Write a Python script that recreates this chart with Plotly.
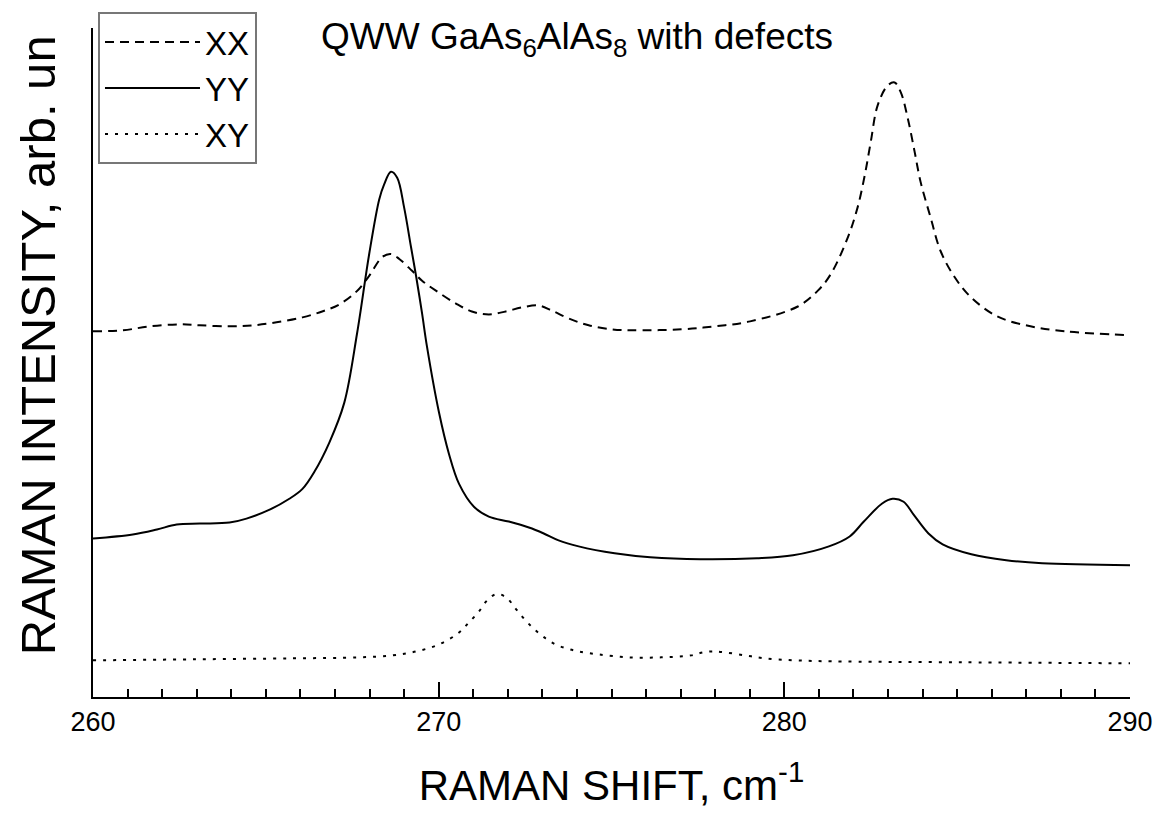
import plotly.graph_objects as go

# Raman shift (cm^-1) and intensity (arb. units) for each polarization
xx_shift = [260.0, 260.87, 261.64, 262.51, 263.09, 263.95, 264.62, 265.31, 266.06, 266.63,
            267.12, 267.62, 267.99, 268.37, 268.62, 268.86, 269.23, 269.52, 269.92, 270.50,
            270.96, 271.45, 271.94, 272.40, 272.89, 273.27, 273.76, 274.34, 275.00, 275.58,
            277.02, 278.00, 279.01, 280.39, 280.97, 281.35, 281.84, 282.12, 282.33, 282.50,
            282.70, 282.99, 283.19, 283.37, 283.57, 283.77, 283.94, 284.23, 284.52, 284.92,
            285.38, 286.16, 287.12, 288.10, 290.00]
xx_int = [369, 370, 374, 376, 375, 374, 375, 378, 383, 389,
          396, 409, 425, 444, 447, 442, 430, 420, 410, 397,
          389, 386, 389, 393, 395, 390, 382, 375, 371, 370,
          371, 374, 379, 394, 410, 427, 464, 494, 527, 560,
          597, 617, 620, 610, 584, 550, 520, 484, 450, 424,
          404, 384, 374, 369, 365]

yy_shift = [260.0, 261.15, 261.85, 262.42, 263.09, 263.95, 264.44, 265.11, 265.68, 266.06,
            266.40, 266.84, 267.27, 267.64, 267.99, 268.28, 268.42, 268.62, 268.80, 269.00,
            269.20, 269.35, 269.52, 269.66, 270.01, 270.30, 270.59, 271.02, 271.45, 272.03,
            272.61, 273.04, 273.47, 274.05, 275.09, 276.12, 277.57, 279.21, 280.25, 281.29,
            281.89, 282.30, 282.82, 283.13, 283.45, 283.74, 284.17, 284.58, 285.41, 286.42,
            287.46, 290.00]
yy_int = [160, 164, 169, 174, 175, 176, 180, 189, 200, 210,
          227, 257, 297, 367, 447, 502, 517, 530, 524, 494,
          454, 424, 387, 354, 287, 245, 215, 192, 182, 177,
          171, 165, 158, 152, 145, 141, 139, 140, 143, 152,
          162, 177, 195, 200, 197, 184, 165, 154, 144, 138,
          135, 133]

xy_shift = [260.0, 262.88, 265.77, 267.70, 268.65, 269.35, 270.01, 270.59, 270.87, 271.16,
            271.39, 271.68, 271.97, 272.23, 272.52, 272.81, 273.10, 273.38, 273.70, 274.05,
            274.62, 275.49, 276.44, 277.31, 277.65, 277.94, 278.29, 278.86, 279.44, 280.31,
            281.35, 285.21, 290.00]
xy_int = [37, 38, 39, 40, 42, 46, 53, 65, 75, 86,
          97, 104, 100, 89, 77, 67, 59, 53, 49, 46,
          43, 40, 40, 42, 45, 46, 45, 42, 39, 37,
          36, 35, 34]

x_ticks = [260, 270, 280, 290]

FONT = "Arial, Liberation Sans, sans-serif"

fig = go.Figure()
fig.add_trace(go.Scatter(x=xx_shift, y=xx_int, name="XX", mode="lines",
                         line=dict(color="black", width=2, dash="9px,6px", shape="spline")))
fig.add_trace(go.Scatter(x=yy_shift, y=yy_int, name="YY", mode="lines",
                         line=dict(color="black", width=2, shape="spline")))
fig.add_trace(go.Scatter(x=xy_shift, y=xy_int, name="XY", mode="lines",
                         line=dict(color="black", width=2, dash="3px,7px", shape="spline")))

fig.update_layout(
    width=1165, height=823,
    margin=dict(l=93, r=32, t=22, b=126),
    paper_bgcolor="white", plot_bgcolor="white",
    font=dict(family=FONT, color="black"),
    showlegend=True,
    legend=dict(
        x=5 / 1040, y=1 + 16 / 675, xanchor="left", yanchor="top",
        bgcolor="white", bordercolor="#777777", borderwidth=2,
        font=dict(size=33, family=FONT, color="black"),
        itemwidth=95, tracegroupgap=0,
    ),
    xaxis=dict(
        range=[260, 290], tickvals=x_ticks, ticktext=[str(v) for v in x_ticks],
        showline=True, linecolor="black", linewidth=2, mirror=False,
        ticks="inside", ticklen=15, tickwidth=2, tickcolor="black",
        minor=dict(dtick=1, ticks="inside", ticklen=8, tickwidth=2, tickcolor="black"),
        showgrid=False, zeroline=False,
        tickfont=dict(size=27, family=FONT, color="black"),
        ticklabelstandoff=0,
        title=dict(text="RAMAN SHIFT, cm<sup>-1</sup>",
                   font=dict(size=42, family=FONT, color="black"), standoff=34),
    ),
    yaxis=dict(
        range=[0, 675], showline=True, linecolor="black", linewidth=2,
        showticklabels=False, ticks="", showgrid=False, zeroline=False,
    ),
    annotations=[
        dict(
            text="QWW GaAs<sub>6</sub>AlAs<sub>8</sub> with defects",
            xref="paper", yref="paper", x=227 / 1040, y=1 + 14 / 675,
            xanchor="left", yanchor="top", showarrow=False,
            font=dict(size=37, family=FONT, color="black"),
        ),
        dict(
            text="RAMAN INTENSITY, arb. un",
            xref="paper", yref="paper", x=-55 / 1040, y=(697 - 342) / 675,
            xanchor="center", yanchor="middle", textangle=-90, showarrow=False,
            font=dict(size=49, family=FONT, color="black"),
        ),
    ],
)

fig.write_html("out.html")
